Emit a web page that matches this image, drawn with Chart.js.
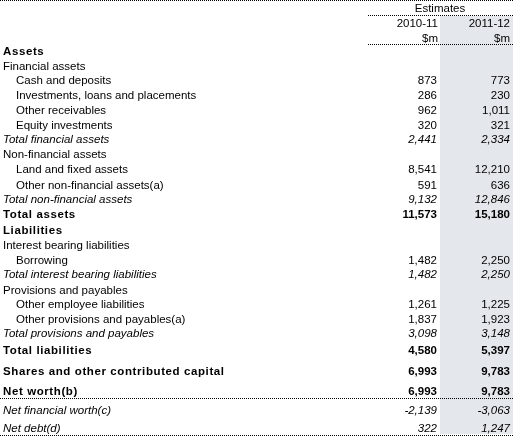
<!DOCTYPE html>
<html>
<head>
<meta charset="utf-8">
<script src="https://cdn.jsdelivr.net/npm/chart.js@4.4.0/dist/chart.umd.min.js"></script>
<style>
  html, body { margin: 0; padding: 0; background: #fff; }
  #wrap { width: 513px; height: 436px; }
</style>
</head>
<body>
<div id="wrap"><canvas id="tbl"></canvas></div>
<script>
// row labels, styles and values
const rowLabels = [
  'Assets', 'Financial assets', 'Cash and deposits', 'Investments, loans and placements',
  'Other receivables', 'Equity investments', 'Total financial assets', 'Non-financial assets',
  'Land and fixed assets', 'Other non-financial assets(a)', 'Total non-financial assets', 'Total assets',
  'Liabilities', 'Interest bearing liabilities', 'Borrowing', 'Total interest bearing liabilities',
  'Provisions and payables', 'Other employee liabilities', 'Other provisions and payables(a)',
  'Total provisions and payables', 'Total liabilities', 'Shares and other contributed capital',
  'Net worth(b)', 'Net financial worth(c)', 'Net debt(d)'
];
// b = bold, n = normal, i = italic, s = sub-item (indented)
const rowStyles = ['b','n','s','s','s','s','i','n','s','s','i','b','b','n','s','i','n','s','s','i','b','b','b','i','i'];
const values201011 = ['', '', '873', '286', '962', '320', '2,441', '', '8,541', '591', '9,132', '11,573',
  '', '', '1,482', '1,482', '', '1,261', '1,837', '3,098', '4,580', '6,993', '6,993', '-2,139', '322'];
const values201112 = ['', '', '773', '230', '1,011', '321', '2,334', '', '12,210', '636', '12,846', '15,180',
  '', '', '2,250', '2,250', '', '1,225', '1,923', '3,148', '5,397', '9,783', '9,783', '-3,063', '1,247'];
const columnHeads = ['2010-11', '2011-12'];

// layout: row centre positions on the y scale (0 = top of page)
const rowPos = [51.5, 66.5, 80.5, 95.5, 110.5, 125.5, 140, 155, 170, 185.5, 199.5, 214.5, 230.5, 245.5, 260.5, 274.5, 290.5, 304.5, 319.5, 334, 350.5, 371.5, 391.5, 410.5, 428.5];

const FONT = '"Liberation Sans", Arial, sans-serif';

const tablePlugin = {
  id: 'tablePlugin',
  beforeDraw(chart) {
    const ctx = chart.ctx;
    const x = chart.scales.x, y = chart.scales.y;
    const px = v => x.getPixelForValue(v);
    const py = v => y.getPixelForValue(v);
    ctx.save();
    // shaded column
    ctx.fillStyle = '#e4e8ec';
    ctx.fillRect(px(440), py(16), px(513) - px(440), py(434) - py(16));
    // dotted rules
    ctx.strokeStyle = '#000';
    ctx.lineWidth = 1;
    ctx.setLineDash([1, 1]);
    const rule = (x0, x1, yy) => {
      ctx.beginPath();
      ctx.moveTo(px(x0), Math.round(py(yy)) + 0.5);
      ctx.lineTo(px(x1), Math.round(py(yy)) + 0.5);
      ctx.stroke();
    };
    rule(0, 513, 0);
    rule(368, 513, 15);
    rule(368, 513, 44);
    rule(0, 513, 398);
    rule(0, 513, 435);
    ctx.setLineDash([]);

    ctx.fillStyle = '#000';
    ctx.textBaseline = 'middle';
    const f = '11.5px ' + FONT;
    ctx.font = f;
    ctx.textAlign = 'center';
    ctx.fillText('Estimates', px(440), py(8.5));
    ctx.textAlign = 'right';
    columnHeads.forEach((h, i) => ctx.fillText(h, px(i ? 510 : 438), py(24)));
    ctx.fillText('$m', px(438), py(38.5));
    ctx.fillText('$m', px(510), py(38.5));

    rowLabels.forEach((lab, i) => {
      const st = rowStyles[i];
      let font = f;
      if (st === 'b') font = 'bold ' + f;
      if (st === 'i') font = 'italic ' + f;
      ctx.font = font;
      ctx.letterSpacing = st === 'b' ? '0.6px' : '0px';
      ctx.textAlign = 'left';
      ctx.fillText(lab, px(st === 's' ? 16 : 3), py(rowPos[i]));
      ctx.letterSpacing = '0px';
      ctx.textAlign = 'right';
      ctx.fillText(values201011[i], px(437), py(rowPos[i]));
      ctx.fillText(values201112[i], px(510), py(rowPos[i]));
    });
    ctx.restore();
  }
};

new Chart(document.getElementById('tbl'), {
  type: 'scatter',
  data: { datasets: [{ data: [] }] },
  options: {
    responsive: true,
    maintainAspectRatio: false,
    animation: false,
    layout: { padding: 0 },
    plugins: { legend: { display: false }, tooltip: { enabled: false } },
    scales: {
      x: { type: 'linear', min: 0, max: 513, display: false },
      y: { type: 'linear', min: 0, max: 436, reverse: true, display: false }
    }
  },
  plugins: [tablePlugin]
});
</script>
</body>
</html>
